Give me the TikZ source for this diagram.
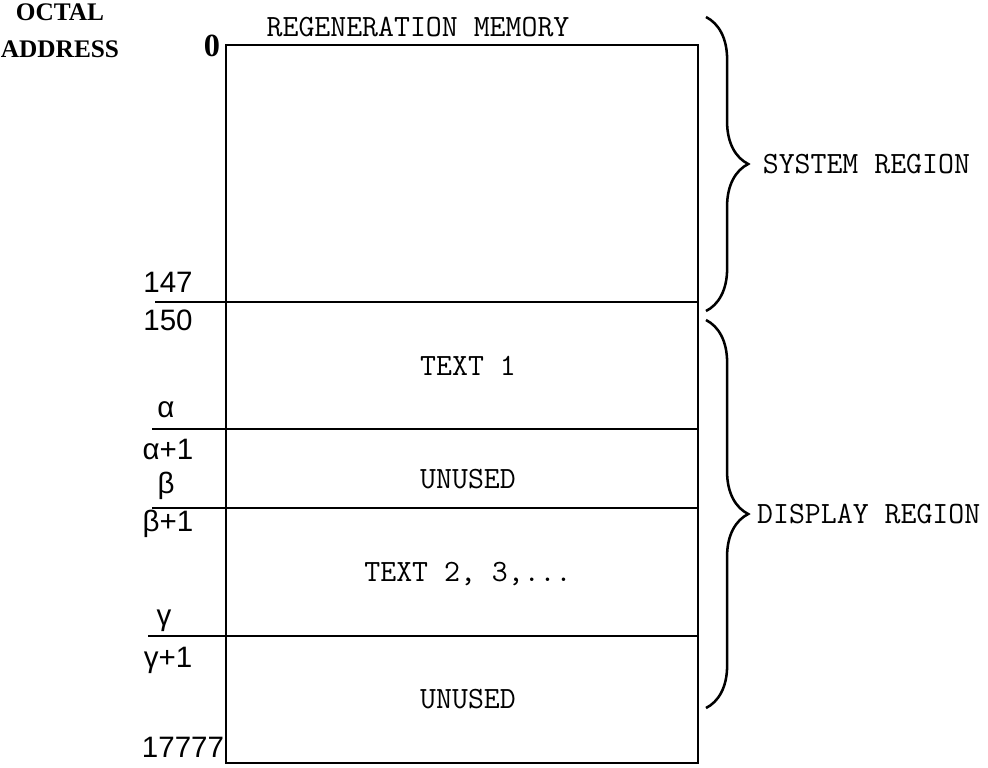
\documentclass[tikz,border=0pt]{standalone}
\usepackage{fontspec}
\setsansfont{Liberation Sans}
\newfontfamily\headfont{Liberation Serif}
\usetikzlibrary{positioning}
\usetikzlibrary{decorations.pathreplacing}

\begin{document}
\begin{tikzpicture}[
  x=0.0125cm, y=-0.0125cm,
  addr/.style   = {font=\sffamily\fontsize{10.5}{12}\selectfont, inner sep=1pt},
  region/.style = {font=\ttfamily\fontsize{11}{12}\selectfont, inner sep=1pt},
  head/.style   = {font=\headfont\bfseries\fontsize{9}{11}\selectfont, inner sep=1pt},
  side/.style   = {region, anchor=west},
  wall/.style   = {line width=1pt},
  rule/.style   = {line width=0.9pt},
  curly/.style  = {decorate, decoration={brace, amplitude=15pt}, line width=0.9pt},
]
\useasboundingbox (0,0) rectangle (988,767);

% memory block
\coordinate (mem-tl) at (226,45);
\coordinate (mem-br) at (698,763);
\draw[wall] (mem-tl) rectangle (mem-br);

\draw[rule] (155,302) -- (698,302);
\draw[rule] (152,429) -- (698,429);
\draw[rule] (152,508) -- (698,508);
\draw[rule] (148,636) -- (698,636);

% headings
\node[region] (title) at (418,27) {REGENERATION MEMORY};
\node[head, align=center] (octal) at (60,31) {OCTAL\\[2pt]ADDRESS};

% addresses
\node[head, font=\headfont\bfseries\fontsize{11.5}{12}\selectfont] (a-0) at (212,46) {0};
\node[addr] (a-147)   at (168,282) {147};
\node[addr] (a-150)   at (168,320) {150};
\node[addr] (a-alpha) at (166,410) {α};
\node[addr] (a-alp1)  at (168,449) {α+1};
\node[addr] (a-beta)  at (166,486) {β};
\node[addr] (a-bet1)  at (168,524) {β+1};
\node[addr] (a-gamma) at (164,621) {γ};
\node[addr] (a-gam1)  at (168,660) {γ+1};
\node[addr] (a-end)   at (183,747) {17777};

% contents
\node[region] (text1)   at (468,366) {TEXT 1};
\node[region] (unused1) at (468,479) {UNUSED};
\node[region] (text2)   at (468,574) {TEXT 2, 3,...};
\node[region] (unused2) at (468,699) {UNUSED};

% braces
\coordinate (sys-top) at (706,17);
\coordinate (sys-bot) at (706,311);
\coordinate (dis-top) at (706,320);
\coordinate (dis-bot) at (706,708);
\draw[curly] (sys-top) -- (sys-bot) coordinate[midway, xshift=15pt] (sys-tip);
\draw[curly] (dis-top) -- (dis-bot) coordinate[midway, xshift=15pt] (dis-tip);

\node[side, right=4pt of sys-tip] (sys) {SYSTEM REGION};
\node[side, right=2pt of dis-tip] (dis) {DISPLAY REGION};

\end{tikzpicture}
\end{document}
